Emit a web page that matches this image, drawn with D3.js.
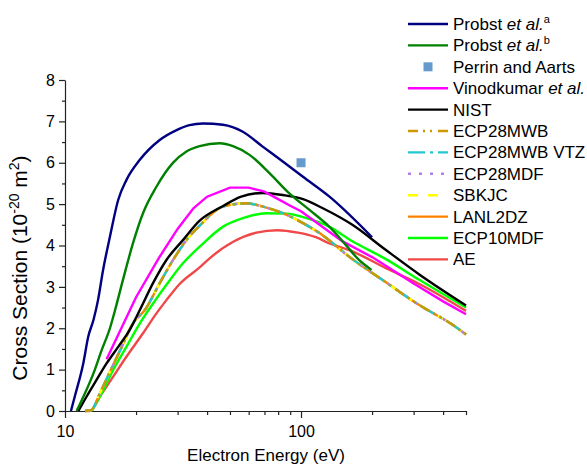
<!DOCTYPE html>
<html>
<head>
<meta charset="utf-8">
<script src="https://cdn.jsdelivr.net/npm/d3@7"></script>
<style>
  body { margin: 0; background: #fff; }
  svg { font-family: "Liberation Sans", Arial, sans-serif; }
</style>
</head>
<body>
<div id="chart"></div>
<script>
// values: [energy eV, cross section 1e-20 m2]
const probstA = [[10.6,0],[11.0,0.35],[11.95,1.15],[12.55,1.8],[13.2,2.2],[13.8,2.68],[14.5,3.41],[15.5,4.21],[16.8,5.1],[18.2,5.58],[20.75,6.07],[25.2,6.55],[29.7,6.79],[33.7,6.91],[38.4,6.95],[46.7,6.92],[56.7,6.75],[68.8,6.39],[83.7,6.03],[101.9,5.66],[132,5.18],[200,4.2]];
const probstB = [[11.2,0],[12.15,0.43],[13.2,0.91],[14.3,1.47],[15.5,2.0],[16.3,2.44],[17.6,3.17],[19.4,4.05],[21.4,4.78],[24.4,5.42],[28.6,5.99],[32.7,6.27],[37.2,6.4],[45.2,6.47],[51.5,6.4],[60.5,6.19],[73.5,5.75],[89.2,5.26],[108.6,4.86],[132,4.45],[155,4.01],[176,3.65],[199,3.41]];
const perrin = [[100,6.0]];
const vinodkumar = [[15,1.25],[20,2.75],[25,3.7],[30,4.4],[35,4.9],[40,5.18],[50,5.4],[60,5.4],[70,5.3],[80,5.12],[90,4.96],[100,4.83],[150,4.1],[200,3.72],[300,3.08],[400,2.65],[500,2.34]];
const nist = [[11.4,0],[12.35,0.35],[13.6,0.75],[15,1.15],[16.8,1.55],[18.8,1.96],[20.75,2.44],[23.6,3.09],[26.9,3.65],[31.6,4.13],[37.2,4.6],[46.6,4.95],[55.8,5.18],[68.9,5.27],[83.8,5.22],[102,5.12],[123.7,4.9],[165,4.5],[229,3.89],[317,3.3],[500,2.55]];
const ecp28 = [[12.15,0],[12.9,0.02],[14.06,0.43],[15.5,0.95],[17.4,1.55],[19.4,2.12],[21.8,2.44],[25.2,3.09],[28.7,3.65],[32.7,4.13],[37.2,4.48],[46.6,4.94],[58.6,5.02],[68.9,4.94],[83.8,4.78],[102,4.54],[119.7,4.3],[165,3.67],[229,3.11],[317,2.56],[440,2.08],[500,1.85]];
const ecp10mdf = [[13.0,0],[14.3,0.43],[16.0,0.99],[18.2,1.55],[20.75,2.12],[23.3,2.55],[26.9,3.05],[31.6,3.57],[37.2,3.97],[46.6,4.45],[56.7,4.66],[71.1,4.78],[86.6,4.77],[105.5,4.66],[132,4.45],[163,4.12],[229,3.67],[317,3.17],[500,2.5]];
const ae = [[12.3,0],[12.75,0],[14.06,0.35],[16.0,0.83],[18.2,1.31],[21.4,1.88],[24.4,2.36],[26.9,2.68],[30.6,3.07],[37.2,3.47],[41,3.69],[51.6,4.09],[64.7,4.31],[79.5,4.37],[97.1,4.31],[115.5,4.2],[132,4.05],[165,3.86],[229,3.45],[317,3.07],[500,2.42]];

const xMajorTicks = [10, 100];
const xMinorTicks = [20, 30, 40, 50, 60, 70, 80, 90, 200, 300, 400, 500];
const yMajorTicks = [0, 1, 2, 3, 4, 5, 6, 7, 8];
const yMinorTicks = [0.5, 1.5, 2.5, 3.5, 4.5, 5.5, 6.5, 7.5];

const width = 587, height = 466;
const svg = d3.select('#chart').append('svg').attr('width', width).attr('height', height);

const x = d3.scaleLog().domain([10, 500]).range([65, 466]);
const y = d3.scaleLinear().domain([0, 8]).range([411, 80]);

// series in legend order (styles kept here, values come from the arrays above)
const series = [
  { name: [['Probst '], ['et al.', 'i'], ['a', 's']], data: probstA, color: '#000080' },
  { name: [['Probst '], ['et al.', 'i'], ['b', 's']], data: probstB, color: '#008000' },
  { name: [['Perrin and Aarts']], data: perrin, color: '#6699cc', marker: true },
  { name: [['Vinodkumar '], ['et al.', 'i']], data: vinodkumar, color: '#ff00ff', linear: true },
  { name: [['NIST']], data: nist, color: '#000000' },
  { name: [['ECP28MWB']], data: ecp28, color: '#cc9900', dash: '10,5,2,5,2,6' },
  { name: [['ECP28MWB VTZ']], data: ecp28, color: '#20c8d0', dash: '17,5,3,5' },
  { name: [['ECP28MDF']], data: ecp28, color: '#b27fe8', dash: '3,8' },
  { name: [['SBKJC']], data: ecp28, color: '#ffff00', dash: '10,10' },
  { name: [['LANL2DZ']], data: ecp28, color: '#ff8000' },
  { name: [['ECP10MDF']], data: ecp10mdf, color: '#00ff00' },
  { name: [['AE']], data: ae, color: '#f04848' }
];

// axes
const xAxis = svg.append('g').attr('transform', 'translate(0,411)')
  .call(d3.axisBottom(x).tickValues(xMajorTicks).tickSize(7).tickSizeOuter(0).tickFormat(d3.format('d')));
svg.append('g').attr('transform', 'translate(0,411)')
  .call(d3.axisBottom(x).tickValues(xMinorTicks).tickSize(4).tickFormat(''))
  .select('.domain').remove();

const yAxis = svg.append('g').attr('transform', 'translate(65,0)')
  .call(d3.axisLeft(y).tickValues(yMajorTicks).tickSize(6).tickSizeOuter(0));
svg.append('g').attr('transform', 'translate(65,0)')
  .call(d3.axisLeft(y).tickValues(yMinorTicks).tickSize(3).tickFormat(''))
  .select('.domain').remove();

svg.selectAll('.domain, .tick line').attr('stroke', '#222').attr('stroke-width', 1.2);
svg.selectAll('.tick text').attr('font-size', 16).attr('fill', '#000').style('font-family', '"Liberation Sans", Arial, sans-serif');
xAxis.selectAll('.tick text').attr('dy', '1em').attr('y', 10);
yAxis.selectAll('.tick text').attr('x', -10);

// axis titles
svg.append('text').attr('x', 266).attr('y', 461).attr('text-anchor', 'middle')
  .attr('font-size', 17).text('Electron Energy (eV)');

const yTitle = svg.append('text').attr('transform', 'translate(27,268) rotate(-90)')
  .attr('text-anchor', 'middle').attr('font-size', 21);
yTitle.append('tspan').text('Cross Section (10');
yTitle.append('tspan').attr('dy', -8).attr('font-size', 14).text('-20');
yTitle.append('tspan').attr('dy', 8).text(' m');
yTitle.append('tspan').attr('dy', -8).attr('font-size', 14).text('2');
yTitle.append('tspan').attr('dy', 8).text(')');

// lines (drawn bottom to top, reverse of legend)
const plot = svg.append('g');
series.slice().reverse().forEach(s => {
  if (s.marker) return;
  const line = d3.line()
    .x(d => x(d[0])).y(d => y(d[1]))
    .curve(s.linear ? d3.curveLinear : d3.curveMonotoneX);
  plot.append('path').datum(s.data)
    .attr('fill', 'none').attr('stroke', s.color).attr('stroke-width', 2.4)
    .attr('stroke-dasharray', s.dash || null)
    .attr('d', line);
});
series.filter(s => s.marker).forEach(s => {
  plot.selectAll(null).data(s.data).enter().append('rect')
    .attr('x', d => x(d[0]) - 4.5).attr('y', d => y(d[1]) - 4.5)
    .attr('width', 9).attr('height', 9).attr('fill', s.color);
});

// legend
const legend = svg.append('g');
series.forEach((s, i) => {
  const ly = 24 + i * 21.4;
  if (s.marker) {
    legend.append('rect').attr('x', 423.5).attr('y', ly - 4.5).attr('width', 9).attr('height', 9).attr('fill', s.color);
  } else {
    legend.append('line').attr('x1', 408).attr('x2', 448).attr('y1', ly).attr('y2', ly)
      .attr('stroke', s.color).attr('stroke-width', 2.4).attr('stroke-dasharray', s.dash || null);
  }
  const t = legend.append('text').attr('x', 453).attr('y', ly + 6).attr('font-size', 17);
  s.name.forEach(p => {
    const sp = t.append('tspan').text(p[0]);
    if (p[1] === 'i') sp.attr('font-style', 'italic');
    if (p[1] === 's') sp.attr('dy', -7).attr('font-size', 11);
  });
});
</script>
</body>
</html>
